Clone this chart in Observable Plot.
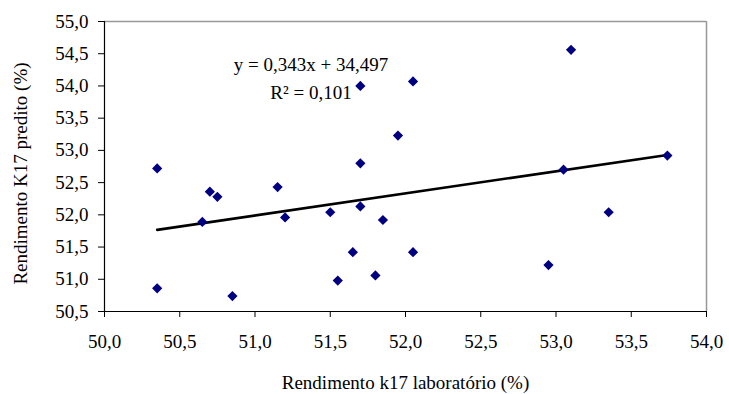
<!DOCTYPE html>
<html>
<head>
<meta charset="utf-8">
<script src="https://cdn.jsdelivr.net/npm/d3@7"></script>
<script src="https://cdn.jsdelivr.net/npm/@observablehq/plot@0.6"></script>
<style>
  html, body { margin: 0; padding: 0; background: #fff; }
</style>
</head>
<body>
<div id="chart"></div>
<script>
// Data
const labYield = [50.35, 50.35, 50.70, 50.75, 50.65, 50.85, 51.15, 51.20, 51.50, 51.55, 51.65, 51.70, 51.70, 51.70, 51.80, 51.85, 51.95, 52.05, 52.05, 53.10, 52.95, 53.05, 53.35, 53.74];
const predYield = [52.72, 50.86, 52.36, 52.28, 51.89, 50.74, 52.43, 51.96, 52.04, 50.98, 51.42, 52.80, 52.13, 54.00, 51.06, 51.92, 53.23, 54.07, 51.42, 54.56, 51.22, 52.70, 52.04, 52.92];
const slope = 0.343;
const intercept = 34.497;
const rSquared = "0,101";
const xTicks = [50.0, 50.5, 51.0, 51.5, 52.0, 52.5, 53.0, 53.5, 54.0];
const yTicks = [50.5, 51.0, 51.5, 52.0, 52.5, 53.0, 53.5, 54.0, 54.5, 55.0];
const xTitle = "Rendimento k17 laboratório (%)";
const yTitle = "Rendimento K17 predito (%)";

const points = labYield.map((x, i) => ({x, y: predYield[i]}));
const [x0, x1] = d3.extent(labYield);
const trend = [x0, x1].map(x => ({x, y: slope * x + intercept}));
const fmt = v => d3.format(".1f")(v).replace(".", ",");
const fmtNum = v => d3.format(".3f")(v).replace(".", ",");
const equation = `y = ${fmtNum(slope)}x + ${fmtNum(intercept)}\nR² = ${rSquared}`;

const font = "'Liberation Serif', 'Times New Roman', serif";

const chart = Plot.plot({
  width: 729,
  height: 394,
  marginLeft: 104,
  marginRight: 23,
  marginTop: 21,
  marginBottom: 83,
  style: {fontSize: "19px", fontFamily: font, color: "#000", background: "#fff"},
  x: {domain: [50, 54]},
  y: {domain: [50.5, 55]},
  marks: [
    Plot.ruleY([55], {stroke: "#999", strokeWidth: 1.5}),
    Plot.ruleX([54], {stroke: "#999", strokeWidth: 1.5}),
    Plot.axisX({ticks: xTicks, tickFormat: fmt, tickSize: 6, tickPadding: 16.5, label: null, stroke: "#000", fill: "#000"}),
    Plot.axisY({ticks: yTicks, tickFormat: fmt, tickSize: 6, tickPadding: 10, label: null, stroke: "#000", fill: "#000"}),
    Plot.ruleX([50], {stroke: "#000", strokeWidth: 1.2}),
    Plot.ruleY([50.5], {stroke: "#000", strokeWidth: 1.2}),
    Plot.line(trend, {x: "x", y: "y", stroke: "#000", strokeWidth: 2.6}),
    Plot.dot(points, {x: "x", y: "y", symbol: "diamond2", r: 4.6, fill: "#000080", stroke: "none"}),
    Plot.text([equation], {frameAnchor: "top-left", dx: 206.5, dy: 55, text: d => d, lineHeight: 1.47, textAnchor: "middle", lineAnchor: "middle", fill: "#000"}),
    Plot.text([xTitle], {frameAnchor: "bottom", dy: 71, text: d => d, textAnchor: "middle", lineAnchor: "middle", fill: "#000"}),
    Plot.text([yTitle], {frameAnchor: "left", dx: -84, dy: 7, rotate: -90, text: d => d, textAnchor: "middle", lineAnchor: "middle", fill: "#000"})
  ]
});
d3.select(chart).selectAll("text")
  .style("font-family", font)
  .style("font-size", "19px");
document.getElementById("chart").appendChild(chart);
</script>
</body>
</html>
